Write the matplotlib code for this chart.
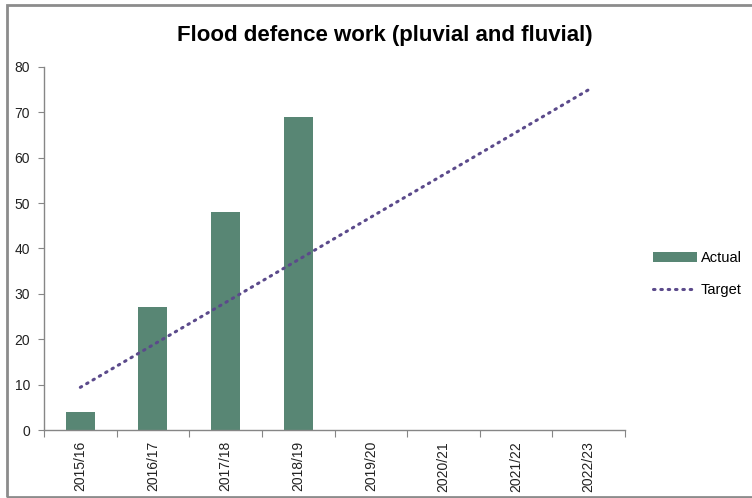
import matplotlib
matplotlib.use("Agg")
import matplotlib.pyplot as plt
from matplotlib.patches import Rectangle
from matplotlib.lines import Line2D
from matplotlib.patches import Patch

plt.rcParams['font.family'] = ['Liberation Sans', 'DejaVu Sans']

years = ["2015/16", "2016/17", "2017/18", "2018/19",
         "2019/20", "2020/21", "2021/22", "2022/23"]
actual = [4, 27, 48, 69]
target = [9.4, 18.75, 28.1, 37.5, 46.9, 56.25, 65.6, 75]

bar_color = "#588674"
line_color = "#5b4a8b"
axis_grey = "#868686"

W, H = 752, 498
fig = plt.figure(figsize=(W / 100, H / 100), dpi=100)

# outer frame
fig.patches.append(Rectangle((6.5 / W, 1 - 497 / H), 1.0, (497 - 5.5) / H,
                             transform=fig.transFigure, fill=False,
                             edgecolor="#8c8c8c", linewidth=2))

ax = fig.add_axes([44 / W, 1 - 430 / H, (625 - 44) / W, (430 - 67) / H])

x = list(range(len(years)))
ax.bar(x[:len(actual)], actual, width=0.4, color=bar_color, zorder=2)
ax.plot(x, target, color=line_color, linewidth=2.2,
        linestyle=(0, (0.5, 1.9)), dash_capstyle="round", zorder=3)

ax.set_xlim(-0.5, len(years) - 0.5)
ax.set_ylim(0, 80)
ax.set_yticks(range(0, 81, 10))
ax.tick_params(axis="y", length=4, color=axis_grey, labelsize=10,
               labelcolor="#222222", pad=6)

ax.set_xticks([i - 0.5 for i in range(len(years) + 1)])
ax.set_xticklabels([])
ax.set_xticks(x, minor=True)
ax.set_xticklabels(years, minor=True, rotation=90, fontsize=10,
                   color="#222222")
ax.tick_params(axis="x", which="major", length=5, color=axis_grey)
ax.tick_params(axis="x", which="minor", length=0, pad=8)

for side in ("top", "right"):
    ax.spines[side].set_visible(False)
for side in ("left", "bottom"):
    ax.spines[side].set_color(axis_grey)
    ax.spines[side].set_linewidth(1)

fig.text(385 / W, 1 - 35 / H, "Flood defence work (pluvial and fluvial)",
         ha="center", va="center", fontsize=16, fontweight="bold")

handles = [Patch(facecolor=bar_color, edgecolor="none"),
           Line2D([0], [0], color=line_color, linewidth=2.2,
                  linestyle=(0, (0.5, 1.9)), dash_capstyle="round")]
fig.legend(handles, ["Actual", "Target"], loc="center left",
           bbox_to_anchor=(647 / W, 1 - 274 / H), frameon=False,
           fontsize=10.5, handlelength=3.0, handleheight=0.6,
           labelspacing=1.2, handletextpad=0.3, borderaxespad=0.0)

fig.savefig("out.png", dpi=100, facecolor="white")
